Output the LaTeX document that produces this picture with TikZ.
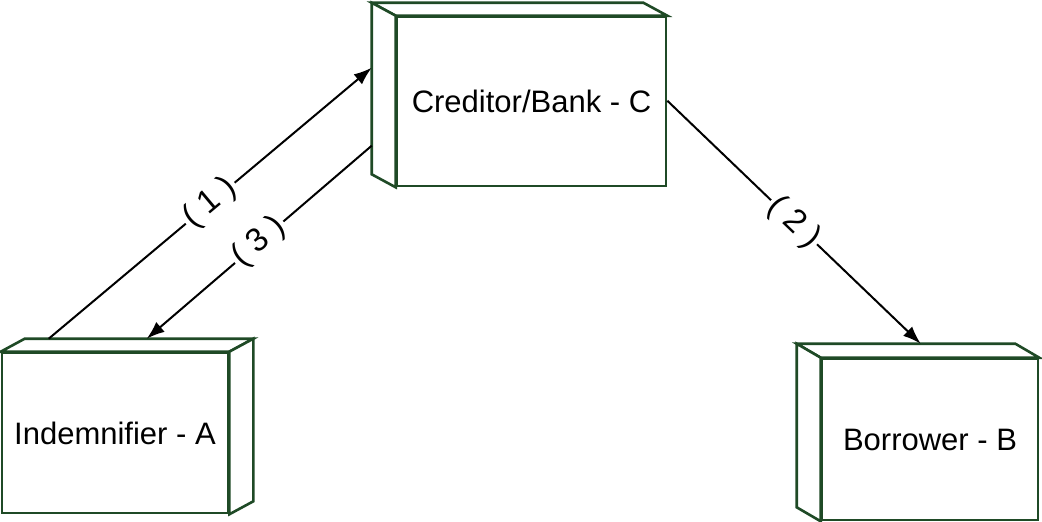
\documentclass[tikz,border=0pt]{standalone}
\usepackage{fontspec}
\setmainfont{Liberation Sans}
\usetikzlibrary{calc,arrows.meta}
\definecolor{boxgreen}{HTML}{1F4A26}
\tikzset{
  front/.style={draw=boxgreen, line width=1.3pt, fill=white, rectangle, inner sep=0pt,
    font=\fontsize{15.5}{18}\selectfont},
  face/.style={draw=boxgreen, line width=1.3pt, fill=white, line join=miter},
  conn/.style={draw=black, line width=1pt, -{Latex[length=9pt,width=6.5pt]}},
  lbl/.style={midway, sloped, fill=white, inner sep=1.2pt, font=\fontsize{16.5}{18}\selectfont},
}
\begin{document}
\begin{tikzpicture}[x=0.5pt, y=-0.5pt]
\useasboundingbox (0,0) rectangle (1042,521);
% Creditor / Bank
\node[front, minimum width=134.5pt, minimum height=84.5pt] (C) at (531.5,101.5) {Creditor/Bank - C};
\draw[face] (C.north west) -- ($(C.north west)+(-24,-13)$) -- ($(C.north east)+(-24,-13)$) -- (C.north east) -- cycle;
\draw[face] (C.north west) -- ($(C.north west)+(-24,-13)$) -- ($(C.south west)+(-24,-13)$) -- (C.south west) -- cycle;
% Indemnifier
\node[front, minimum width=113pt, minimum height=80pt] (A) at (115,433) {Indemnifier - A};
\draw[face] (A.north west) -- ($(A.north west)+(24,-13)$) -- ($(A.north east)+(24,-13)$) -- (A.north east) -- cycle;
\draw[face] (A.north east) -- ($(A.north east)+(24,-13)$) -- ($(A.south east)+(24,-13)$) -- (A.south east) -- cycle;
% Borrower
\node[front, minimum width=108pt, minimum height=80.5pt] (B) at (930,439.5) {Borrower - B};
\draw[face] (B.north west) -- ($(B.north west)+(-24,-14)$) -- ($(B.north east)+(-24,-14)$) -- (B.north east) -- cycle;
\draw[face] (B.north west) -- ($(B.north west)+(-24,-14)$) -- ($(B.south west)+(-24,-14)$) -- (B.south west) -- cycle;
% connector end points
\coordinate (a1) at ($(A.north west)+(48,-13)$);
\coordinate (c1) at ($(C.north west)+(-24,52)$);
\coordinate (c3) at ($(C.north west)+(-24,130)$);
\coordinate (a3) at ($(A.north west)+(146,-13)$);
\coordinate (c2) at ($(C.north east)+(0,85)$);
\coordinate (b2) at ($(B.north west)+(100,-14)$);
\draw[conn] (a1) -- node[lbl] {( 1 )} (c1);
\draw[conn] (c3) -- node[lbl] {( 3 )} (a3);
\draw[conn] (c2) -- node[lbl] {( 2 )} (b2);
\end{tikzpicture}
\end{document}
